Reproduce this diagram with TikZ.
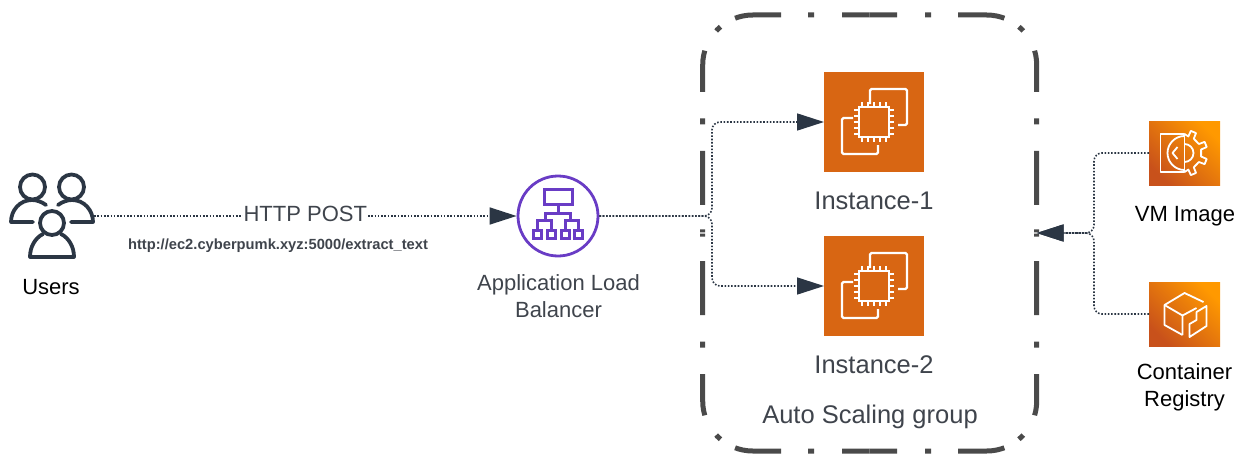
\documentclass[tikz,border=0pt]{standalone}
\usepackage{fontspec}
\usepackage{xcolor}
\setmainfont{Liberation Sans}
\usetikzlibrary{arrows.meta,positioning}
\definecolor{inkdark}{HTML}{2B3644}
\definecolor{labelgray}{HTML}{3F444C}
\definecolor{groupgray}{HTML}{4A4A4A}
\definecolor{ecorange}{HTML}{D86613}
\definecolor{albpurple}{HTML}{693CC5}
\definecolor{shadelow}{HTML}{C8511B}
\definecolor{shadehigh}{HTML}{FF9900}

\tikzset{
  usersicon/.pic={
    \begin{scope}[draw=inkdark, line width=3.8pt, line cap=round, line join=round]
      \draw (-19.5,-29) circle (12.5);
      \draw (19.5,-29) circle (12.5);
      \draw (0,7) circle (12);
      \draw (-6,-11) .. controls (-10,-14) and (-15,-16) .. (-20,-16) .. controls (-32,-16) and (-41,-6) .. (-41,6) -- (-19,6);
      \draw (6,-11) .. controls (10,-14) and (15,-16) .. (20,-16) .. controls (32,-16) and (41,-6) .. (41,6) -- (19,6);
      \draw (-9,18) .. controls (-17,22) and (-22,31) .. (-22,41) -- (22,41) .. controls (22,31) and (17,22) .. (9,18);
    \end{scope}
  },
  albicon/.pic={
    \begin{scope}[draw=albpurple, line width=3pt]
      \draw (-14,-27) rectangle (14,-12);
      \draw (0,-12) -- (0,-3);
      \draw (-12.5,4) -- (-12.5,-3) -- (12.5,-3) -- (12.5,4);
      \draw (-20.5,14) -- (-20.5,4) -- (-7,4) -- (-7,14);
      \draw (20.5,14) -- (20.5,4) -- (7,4) -- (7,14);
      \foreach \sx in {-20.5,-7,7,20.5}
        \draw (\sx-4,14) rectangle (\sx+4,22);
    \end{scope}
  },
  chipicon/.pic={
    \begin{scope}[draw=white, line width=2.2pt]
      \draw[rounded corners=1.5pt] (-4,-18) -- (-4,-33) -- (33,-33) -- (33,3) -- (24,3);
      \draw[rounded corners=1.5pt] (-21,-4) -- (-32,-4) -- (-32,32) -- (4,32) -- (4,23);
      \draw[fill=ecorange] (-15,-15) rectangle (15,15);
      \foreach \t in {-12,-6,0,6,12} {
        \draw[line width=1.8pt] (\t,-15) -- (\t,-20);
        \draw[line width=1.8pt] (\t,15) -- (\t,20);
        \draw[line width=1.8pt] (-15,\t) -- (-20,\t);
        \draw[line width=1.8pt] (15,\t) -- (20,\t);
      }
    \end{scope}
  },
  vmicon/.pic={
    \begin{scope}[draw=white, line width=1.8pt, line join=round]
      \draw (0,-19) -- (-24,-19) -- (-24,19) -- (0,19) -- cycle;
      \draw (0,-17) arc (-90:-270:17);
      \draw (0,-9) arc (-90:90:9);
      \draw (-7,-6) -- (-12,0) -- (-7,6);
      \draw (0,-19) \foreach \a in {-67,-22,22,67} { -- (\a-10:17) -- (\a-7:23) -- (\a+7:23) -- (\a+10:17) } -- (0,19);
    \end{scope}
  },
  boxicon/.pic={
    \begin{scope}[draw=white, line width=1.8pt, line join=round]
      \draw (19,-12) -- (0,-21) -- (-20,-9) -- (-20,11) -- (-2,21);
      \draw (-20,-9) -- (-2,1.5) -- (-2,21);
      \draw (-2,1.5) -- (12,-6);
      \draw (5,23) -- (5,10) -- (12,6) -- (12,-2) -- (22,-8) -- (22,12) -- cycle;
    \end{scope}
  }
}

\begin{document}
\begin{tikzpicture}[
  x=1pt, y=-1pt,
  lbl/.style={font=\fontsize{22}{27}\selectfont, align=center, text=labelgray, inner sep=0pt},
  blk/.style={lbl, text=black},
  grp/.style={lbl, font=\fontsize{25.5}{30}\selectfont},
  ec/.style={fill=ecorange, minimum size=100pt, inner sep=0pt, outer sep=0pt},
  svc/.style={top color=shadehigh, bottom color=shadelow, shading angle=-45,
    minimum width=71pt, minimum height=64pt, inner sep=0pt, outer sep=0pt},
  ar/.style={-{Triangle[length=27pt,width=17pt,fill=inkdark]}, draw=inkdark, line width=1.6pt, dash pattern=on 1.6pt off 1.7pt},
  grpline/.style={draw=groupgray, line width=5pt, rounded corners=50pt,
    dash pattern=on 27.5pt off 28pt on 6pt off 27pt on 46.5pt off 17pt on 6pt off 23pt on 41.5pt off 26.5pt on 6pt off 26.5pt on 54pt off 24.5pt on 3pt off 1pt}
]
  \useasboundingbox (0,0) rectangle (1241,460);

  % left side
  \node[minimum size=84pt, inner sep=0pt, outer sep=0pt] (users) at (52,216) {};
  \pic at (users.center) {usersicon};
  \node[blk] (userslbl) at (51,287) {Users};
  \node[circle, draw=albpurple, line width=2.8pt, minimum size=80pt, inner sep=0pt] (alb) at (558,216) {};
  \pic at (alb.center) {albicon};
  \node[lbl] (alblbl) at (558.5,296.5) {Application Load\\Balancer};
  \draw[ar] (users) -- (alb) node[midway, yshift=2.5pt, lbl, fill=white, inner xsep=1pt, inner ysep=1pt] (post) {HTTP POST};
  \node[lbl, font=\fontsize{14.7}{17}\selectfont\bfseries] (url) at (278,246) {http://ec2.cyberpumk.xyz:5000/extract\_text};

  % auto scaling group
  \node[minimum width=334pt, minimum height=436pt, inner sep=0pt, outer sep=0pt] (group) at (869.7,233) {};
  \foreach \ends/\side in {north/west,south/west,north/east,south/east}
    \draw[grpline] (group.\ends) -| (group.\side);
  \node[ec] (inst1) at (874,122) {};
  \pic at (inst1.center) {chipicon};
  \node[ec] (inst2) at (874,286) {};
  \pic at (inst2.center) {chipicon};
  \node[grp] (inst1lbl) at (874,201) {Instance-1};
  \node[grp] (inst2lbl) at (874,365) {Instance-2};
  \node[grp] (grouplbl) at (870,417) {Auto Scaling group};
  \coordinate (split) at (712,216);
  \draw[ar, rounded corners=8pt] (alb) -- (split) |- (inst1);
  \draw[ar, rounded corners=8pt] (alb) -- (split) |- (inst2);

  % right side
  \node[svc] (vm) at (1184.5,153) {};
  \pic at (vm.center) {vmicon};
  \node[svc] (ecr) at (1184.5,314) {};
  \pic at (ecr.center) {boxicon};
  \node[blk] (vmlbl) at (1185,216) {VM Image};
  \node[blk] (ecrlbl) at (1184.5,387.5) {Container\\Registry};
  \coordinate (merge) at (1094,233);
  \draw[ar, rounded corners=8pt] (vm) -| (merge) -- (group);
  \draw[ar, rounded corners=8pt] (ecr) -| (merge) -- (group);
\end{tikzpicture}
\end{document}
